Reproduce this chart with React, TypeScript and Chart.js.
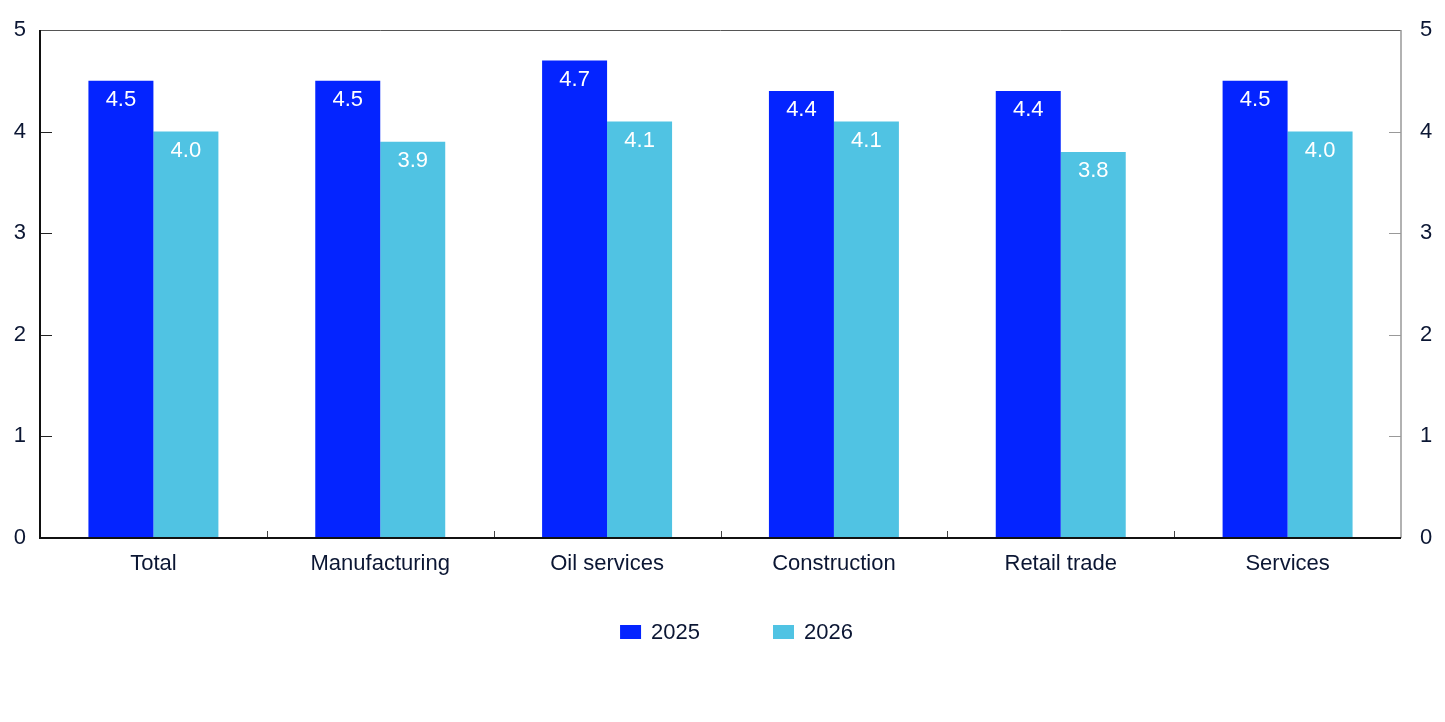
import React, { useEffect, useRef } from "react";
import { Chart, registerables } from "chart.js";

Chart.register(...registerables);

const categories = ["Total", "Manufacturing", "Oil services", "Construction", "Retail trade", "Services"];
const series2025 = [4.5, 4.5, 4.7, 4.4, 4.4, 4.5];
const series2026 = [4.0, 3.9, 4.1, 4.1, 3.8, 4.0];
const seriesLabels = ["2025", "2026"];
const seriesColors = ["#0424FF", "#50C3E3"];
const yTicks = [0, 1, 2, 3, 4, 5];

const TEXT = "#0b1633";
const FONT = "'Liberation Sans', Arial, sans-serif";
const FS = 22;

const framePlugin = {
  id: "frame",
  afterDraw(chart: any) {
    const { ctx, chartArea: a, scales } = chart;
    ctx.save();
    const y = scales.y;
    ctx.lineWidth = 1;
    yTicks.forEach((v) => {
      const py = Math.round(y.getPixelForValue(v)) + 0.5;
      ctx.strokeStyle = "#222";
      ctx.beginPath();
      ctx.moveTo(a.left, py);
      ctx.lineTo(a.left + 12, py);
      ctx.stroke();
      ctx.strokeStyle = "#999";
      ctx.beginPath();
      ctx.moveTo(a.right, py);
      ctx.lineTo(a.right - 12, py);
      ctx.stroke();
    });
    const n = categories.length;
    const w = (a.right - a.left) / n;
    ctx.strokeStyle = "#444";
    for (let i = 1; i < n; i++) {
      const px = Math.round(a.left + w * i) + 0.5;
      ctx.beginPath();
      ctx.moveTo(px, a.bottom);
      ctx.lineTo(px, a.bottom - 7);
      ctx.stroke();
    }
    ctx.strokeStyle = "#555";
    ctx.beginPath();
    ctx.moveTo(a.left, a.top + 0.5);
    ctx.lineTo(a.right, a.top + 0.5);
    ctx.stroke();
    ctx.strokeStyle = "#999";
    ctx.lineWidth = 1.5;
    ctx.beginPath();
    ctx.moveTo(a.right, a.top);
    ctx.lineTo(a.right, a.bottom);
    ctx.stroke();
    ctx.strokeStyle = "#111";
    ctx.lineWidth = 2;
    ctx.beginPath();
    ctx.moveTo(a.left, a.top);
    ctx.lineTo(a.left, a.bottom);
    ctx.lineTo(a.right, a.bottom);
    ctx.stroke();

    // legend
    ctx.font = `${FS}px ${FONT}`;
    ctx.textBaseline = "middle";
    ctx.textAlign = "left";
    const boxW = 21, boxH = 14, gapBox = 10, gapItem = 73;
    const widths = seriesLabels.map((l) => boxW + gapBox + ctx.measureText(l).width);
    const total = widths.reduce((s, v) => s + v, 0) + gapItem * (widths.length - 1);
    let x = chart.width / 2 + 14 - total / 2;
    const cy = 632;
    seriesLabels.forEach((l, i) => {
      ctx.fillStyle = seriesColors[i];
      ctx.fillRect(x, cy - boxH / 2, boxW, boxH);
      ctx.fillStyle = TEXT;
      ctx.fillText(l, x + boxW + gapBox, cy + 1);
      x += widths[i] + gapItem;
    });
    ctx.restore();
  },
};

const labelPlugin = {
  id: "barLabels",
  afterDatasetsDraw(chart: any) {
    const { ctx } = chart;
    ctx.save();
    ctx.fillStyle = "#ffffff";
    ctx.font = `${FS}px ${FONT}`;
    ctx.textAlign = "center";
    ctx.textBaseline = "middle";
    chart.data.datasets.forEach((ds: any, di: number) => {
      const meta = chart.getDatasetMeta(di);
      meta.data.forEach((bar: any, i: number) => {
        const v = ds.data[i];
        ctx.fillText(v.toFixed(1), bar.x, bar.y + 19);
      });
    });
    ctx.restore();
  },
};

export default function App() {
  const ref = useRef<HTMLCanvasElement | null>(null);
  useEffect(() => {
    if (!ref.current) return;
    const chart = new Chart(ref.current, {
      type: "bar",
      data: {
        labels: categories,
        datasets: [
          { label: seriesLabels[0], data: series2025, backgroundColor: seriesColors[0], borderWidth: 0 },
          { label: seriesLabels[1], data: series2026, backgroundColor: seriesColors[1], borderWidth: 0 },
        ],
      },
      options: {
        animation: false,
        responsive: false,
        maintainAspectRatio: false,
        layout: { padding: { top: 30, bottom: 126, left: 0, right: 0 } },
        datasets: { bar: { categoryPercentage: 0.573, barPercentage: 1 } },
        plugins: {
          legend: { display: false },
          tooltip: { enabled: false },
        },
        scales: {
          x: {
            grid: { display: false, drawTicks: false },
            border: { display: false },
            ticks: { color: TEXT, font: { family: FONT, size: FS }, padding: 13 },
            afterFit: (s: any) => {
              s.height = 58;
              s.paddingLeft = 0;
              s.paddingRight = 0;
            },
          },
          y: {
            position: "left",
            min: 0,
            max: 5,
            grid: { display: false, drawTicks: false },
            border: { display: false },
            ticks: { stepSize: 1, color: TEXT, font: { family: FONT, size: FS }, padding: 14 },
            afterFit: (s: any) => {
              s.width = 40;
              s.paddingTop = 0;
              s.paddingBottom = 0;
            },
          },
          y2: {
            position: "right",
            min: 0,
            max: 5,
            grid: { display: false, drawTicks: false },
            border: { display: false },
            ticks: { stepSize: 1, color: TEXT, font: { family: FONT, size: FS }, padding: 19 },
            afterFit: (s: any) => {
              s.width = 44;
              s.paddingTop = 0;
              s.paddingBottom = 0;
            },
          },
        },
      },
      plugins: [framePlugin, labelPlugin],
    });
    return () => chart.destroy();
  }, []);
  return (
    <div style={{ position: "absolute", left: 0, top: 0, width: 1445, height: 722, background: "#fff" }}>
      <canvas ref={ref} width={1445} height={722} />
    </div>
  );
}
